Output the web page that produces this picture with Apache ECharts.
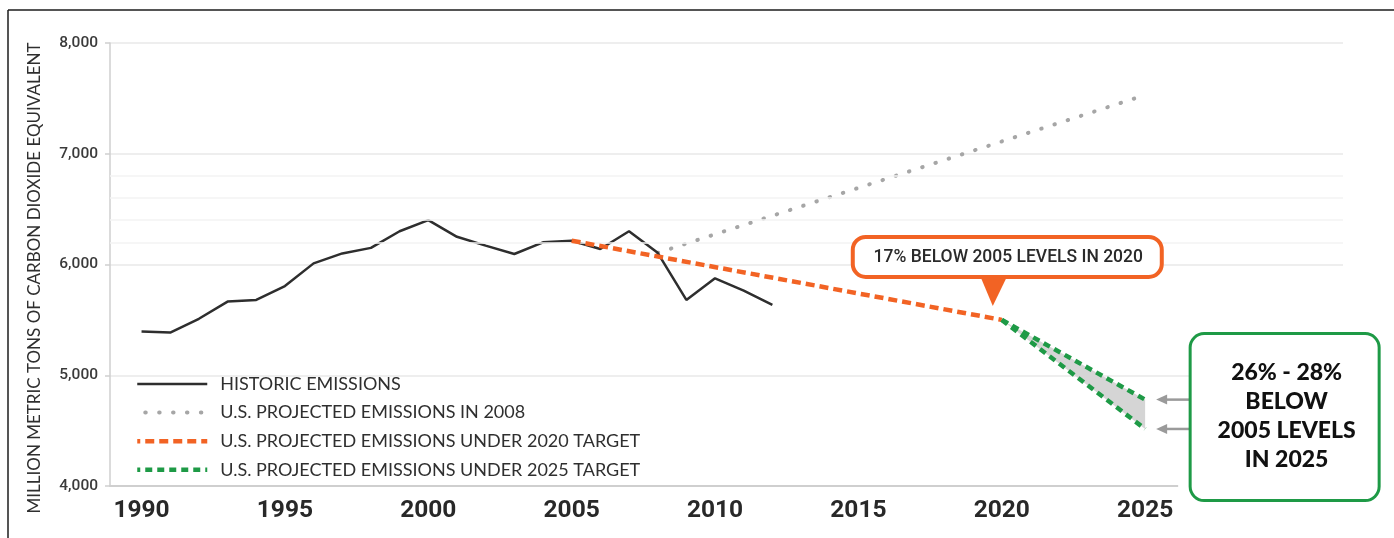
<!DOCTYPE html>
<html>
<head>
<meta charset="utf-8">
<script src="https://cdn.jsdelivr.net/npm/echarts@6/dist/echarts.min.js"></script>
<style>
  html, body { margin: 0; padding: 0; background: #ffffff; }
  #chart { width: 1394px; height: 538px; }
</style>
</head>
<body>
<div id="chart"></div>
<script>
// U.S. greenhouse gas emissions, million metric tons CO2 equivalent
const historicYears  = [1990, 1991, 1992, 1993, 1994, 1995, 1996, 1997, 1998, 1999, 2000, 2001,
                        2002, 2003, 2004, 2005, 2006, 2007, 2008, 2009, 2010, 2011, 2012];
const historicValues = [5394, 5385, 5510, 5665, 5680, 5805, 6010, 6100, 6150, 6300, 6400, 6250,
                        6170, 6095, 6200, 6215, 6140, 6300, 6105, 5680, 5875, 5765, 5635];

const projected2008Years  = [2008, 2025];
const projected2008Values = [6105, 7530];

const target2020Years  = [2005, 2020];
const target2020Values = [6215, 5500];

const target2025Years  = [2020, 2025];
const target2025Upper  = [5500, 4780];   // 26% below 2005
const target2025Lower  = [5500, 4515];   // 28% below 2005

const yearTicks = [1990, 1995, 2000, 2005, 2010, 2015, 2020, 2025];
const minorGridValues = [6200, 6400, 6600, 6800];

const seriesNames = [
  'HISTORIC EMISSIONS',
  'U.S. PROJECTED EMISSIONS IN 2008',
  'U.S. PROJECTED EMISSIONS UNDER 2020 TARGET',
  'U.S. PROJECTED EMISSIONS UNDER 2025 TARGET'
];
const yAxisTitle = 'MILLION METRIC TONS OF CARBON DIOXIDE EQUIVALENT';
const callout2020Text = '17% BELOW 2005 LEVELS IN 2020';
const callout2025Lines = ['26% - 28%', 'BELOW', '2005 LEVELS', 'IN 2025'];

const zip = (xs, ys) => xs.map((x, i) => [x, ys[i]]);

const COLOR_HIST = '#2e2e2e';
const COLOR_GRAY = '#a6a6a6';
const COLOR_ORANGE = '#f26324';
const COLOR_GREEN = '#1e9a46';
const NUMERIC = "Roboto, 'Noto Sans', sans-serif";
const HUMANIST = "Lato, 'Open Sans', sans-serif";

const DOT = [0.5, 13.4];
const ORANGE_DASH = [9, 5];
const GREEN_DASH = [7, 5];
const HIDDEN_SYMBOL = { color: 'rgba(0,0,0,0)', borderWidth: 0, opacity: 0 };

const chart = echarts.init(document.getElementById('chart'), null, { renderer: 'canvas' });

const option = {
  animation: false,
  backgroundColor: '#ffffff',
  grid: { left: 110, right: 51, top: 43, bottom: 52, containLabel: false },
  xAxis: {
    type: 'value',
    min: 1988.9,
    max: 2031.9,
    axisLine: { show: true, lineStyle: { color: '#cfcfcf', width: 2 } },
    axisTick: { show: false },
    splitLine: { show: false },
    axisLabel: {
      customValues: yearTicks,
      margin: 12,
      color: '#282828',
      fontFamily: NUMERIC,
      fontSize: 24.5,
      fontWeight: 'bold',
      formatter: v => String(v)
    }
  },
  yAxis: {
    type: 'value',
    min: 4000,
    max: 8000,
    interval: 1000,
    axisLine: { show: true, lineStyle: { color: '#cfcfcf', width: 1.5 } },
    axisTick: { show: true, length: 5, lineStyle: { color: '#cfcfcf', width: 1.5 } },
    splitLine: { show: true, lineStyle: { color: '#e9e9e9', width: 1.5 } },
    axisLabel: {
      margin: 12,
      color: '#3a3a3a',
      fontFamily: NUMERIC,
      fontSize: 15.5,
      fontWeight: 500,
      formatter: v => v.toLocaleString('en-US')
    }
  },
  legend: {
    orient: 'vertical',
    left: 135,
    top: 375,
    padding: 0,
    itemWidth: 70,
    itemHeight: 14,
    itemGap: 10.6,
    selectedMode: false,
    textStyle: {
      fontFamily: HUMANIST,
      fontSize: 18,
      color: '#2f2f2f',
      lineHeight: 14,
      padding: [0, 0, 0, 8]
    },
    data: [
      { name: seriesNames[0], itemStyle: HIDDEN_SYMBOL, lineStyle: { width: 2.5, type: 'solid' } },
      { name: seriesNames[1], itemStyle: HIDDEN_SYMBOL, lineStyle: { width: 4, type: DOT, cap: 'round', dashOffset: -8 } },
      { name: seriesNames[2], itemStyle: HIDDEN_SYMBOL, lineStyle: { width: 4.5, type: ORANGE_DASH } },
      { name: seriesNames[3], itemStyle: HIDDEN_SYMBOL, lineStyle: { width: 4.5, type: GREEN_DASH } }
    ]
  },
  series: [
    {
      // faint minor grid between 6,000 and 7,000
      name: 'minor-grid',
      type: 'line',
      data: [],
      silent: true,
      z: 1,
      markLine: {
        silent: true,
        symbol: 'none',
        label: { show: false },
        lineStyle: { color: '#f3f3f3', width: 1.5, type: 'solid' },
        data: minorGridValues.map(v => ({ yAxis: v }))
      }
    },
    {
      // shaded range between the 26% and 28% pathways
      name: 'target-range',
      type: 'custom',
      silent: true,
      z: 2,
      data: [0],
      renderItem: (params, api) => {
        const upper = target2025Years.map((yr, i) => api.coord([yr, target2025Upper[i]]));
        const lower = target2025Years.map((yr, i) => api.coord([yr, target2025Lower[i]])).reverse();
        return {
          type: 'polygon',
          shape: { points: upper.concat(lower) },
          style: { fill: '#d5d5d5' }
        };
      }
    },
    {
      name: seriesNames[1],
      type: 'line',
      symbol: 'none',
      z: 3,
      lineStyle: { color: COLOR_GRAY, width: 4, type: DOT, cap: 'round' },
      itemStyle: { color: COLOR_GRAY },
      data: zip(projected2008Years, projected2008Values)
    },
    {
      name: seriesNames[0],
      type: 'line',
      symbol: 'none',
      z: 4,
      lineStyle: { color: COLOR_HIST, width: 2.5 },
      itemStyle: { color: COLOR_HIST },
      data: zip(historicYears, historicValues)
    },
    {
      name: seriesNames[2],
      type: 'line',
      symbol: 'none',
      z: 5,
      lineStyle: { color: COLOR_ORANGE, width: 4.5, type: ORANGE_DASH },
      itemStyle: { color: COLOR_ORANGE },
      data: zip(target2020Years, target2020Values)
    },
    {
      name: seriesNames[3],
      type: 'line',
      symbol: 'none',
      z: 5,
      lineStyle: { color: COLOR_GREEN, width: 4.5, type: GREEN_DASH },
      itemStyle: { color: COLOR_GREEN },
      data: zip(target2025Years, target2025Upper)
    },
    {
      name: seriesNames[3],
      type: 'line',
      symbol: 'none',
      z: 5,
      lineStyle: { color: COLOR_GREEN, width: 4.5, type: GREEN_DASH },
      itemStyle: { color: COLOR_GREEN },
      data: zip(target2025Years, target2025Lower)
    }
  ]
};

chart.setOption(option);

// Annotations anchored to data points through the chart's own coordinate system
const toPx = (x, y) => chart.convertToPixel({ gridIndex: 0 }, [x, y]);
const p2020 = toPx(target2025Years[0], target2020Values[1]);
const pUpper = toPx(target2025Years[1], target2025Upper[1]);
const pLower = toPx(target2025Years[1], target2025Lower[1]);

const box1 = { x: p2020[0] - 149, y: p2020[1] - 83, w: 309, h: 40 };
const apex = [p2020[0] - 9, p2020[1] - 14];
const box2 = { x: pUpper[0] + 45, y: pUpper[1] - 66, w: 189, h: 167 };

function arrow(tipX, y, tailX) {
  return [
    { type: 'line', z: 20, shape: { x1: tailX, y1: y, x2: tipX + 6, y2: y },
      style: { stroke: '#9a9a9a', lineWidth: 2.5 } },
    { type: 'polygon', z: 20, shape: { points: [[tipX, y], [tipX + 11, y - 5], [tipX + 11, y + 5]] },
      style: { fill: '#9a9a9a' } }
  ];
}

const graphics = [
  // frame
  { type: 'line', z: 30, shape: { x1: 8, y1: 10, x2: 1394, y2: 10 }, style: { stroke: '#1c1c1c', lineWidth: 1.5 } },
  { type: 'line', z: 30, shape: { x1: 8, y1: 10, x2: 8, y2: 538 }, style: { stroke: '#1c1c1c', lineWidth: 1.5 } },
  // y-axis title
  { type: 'text', z: 20, x: 35, y: 278, rotation: Math.PI / 2,
    style: { text: yAxisTitle, fill: '#2f2f2f', font: '17px ' + HUMANIST, textAlign: 'center', textVerticalAlign: 'middle' } },
  // 2020 callout
  { type: 'polygon', z: 21, shape: { points: [[box1.x + 127, box1.y + box1.h - 2], [box1.x + 155, box1.y + box1.h - 2], apex] },
    style: { fill: COLOR_ORANGE } },
  { type: 'rect', z: 21, shape: { x: box1.x, y: box1.y, width: box1.w, height: box1.h, r: 13 },
    style: { fill: '#ffffff', stroke: COLOR_ORANGE, lineWidth: 4 } },
  { type: 'text', z: 22, x: box1.x + box1.w / 2 + 1, y: box1.y + box1.h / 2 + 1,
    style: { text: callout2020Text, fill: '#2a2a2a', font: '500 17.5px ' + NUMERIC, textAlign: 'center', textVerticalAlign: 'middle' } },
  // 2025 callout
  { type: 'rect', z: 19, shape: { x: box2.x - 12, y: box2.y + 140, width: 14, height: 20 }, style: { fill: '#ffffff' } },
  { type: 'rect', z: 21, shape: { x: box2.x, y: box2.y, width: box2.w, height: box2.h, r: 14 },
    style: { fill: '#ffffff', stroke: COLOR_GREEN, lineWidth: 3 } },
  { type: 'text', z: 22, x: box2.x + box2.w / 2 + 2, y: box2.y + box2.h / 2 - 1,
    style: { text: callout2025Lines.join('\n'), fill: '#111111', font: '900 23px ' + HUMANIST,
             lineHeight: 29, textAlign: 'center', textVerticalAlign: 'middle' } },
  ...arrow(pUpper[0] + 11, pUpper[1], box2.x),
  ...arrow(pLower[0] + 11, pLower[1], box2.x)
];

chart.setOption({ graphic: graphics });
</script>
</body>
</html>
